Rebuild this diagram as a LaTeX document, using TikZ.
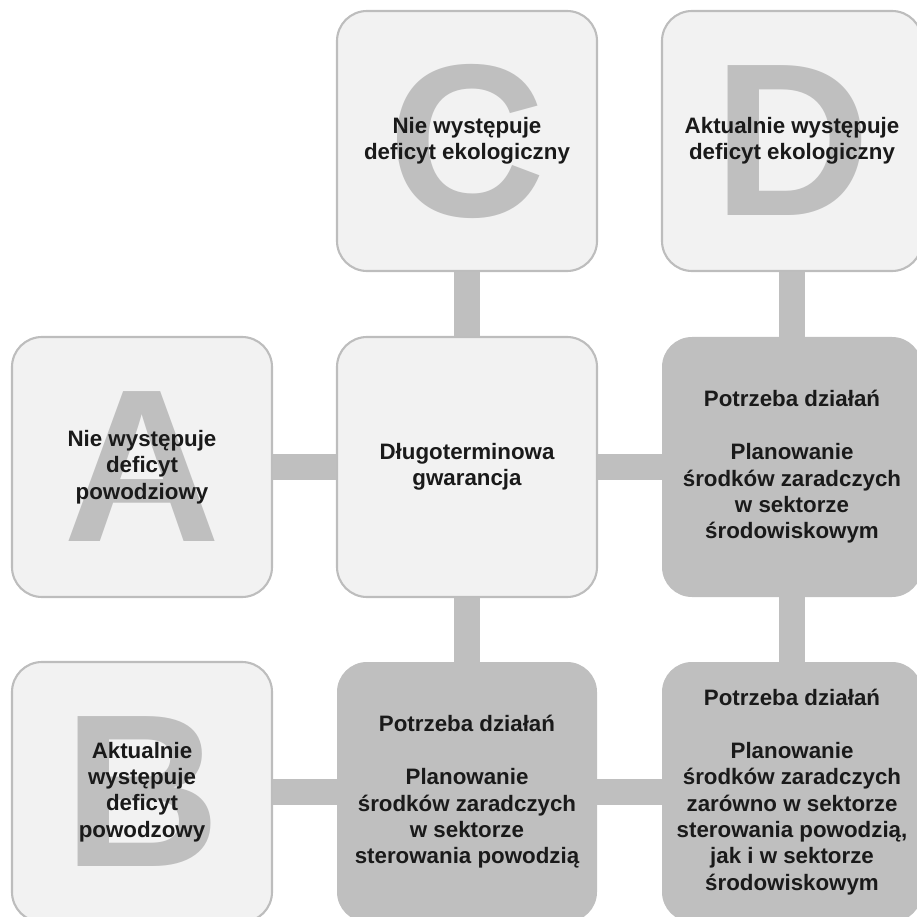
\documentclass[tikz,border=0pt]{standalone}
\usepackage{fontspec}
\setmainfont{Liberation Sans}
\usepackage{tikz}
\definecolor{boxfill}{HTML}{F2F2F2}
\definecolor{boxline}{HTML}{BDBDBD}
\definecolor{barfill}{HTML}{BFBFBF}
\definecolor{txt}{HTML}{1A1A1A}
\tikzset{
  box/.style={rectangle, rounded corners=0.6cm, minimum width=5.2cm, minimum height=5.2cm,
    inner sep=0pt, align=center, text=txt, font=\fontsize{12.7}{15}\selectfont\bfseries},
  lightbox/.style={box, fill=boxfill, draw=boxline, line width=1.2pt,
    path picture={\node[draw=none, fill=none, minimum size=0pt, inner sep=0pt, text=barfill,
      font=\fontsize{124}{124}\selectfont\bfseries] at (path picture bounding box.center) {#1};}},
  darkbox/.style={box, fill=barfill},
  bar/.style={draw=barfill, line width=0.52cm}
}

\begin{document}
\begin{tikzpicture}

            \useasboundingbox (0,0) rectangle (18.32,-18.34);

            % Top row
            \node[lightbox=C] (nodeC) at (9.34,-2.82) {Nie występuje\\deficyt ekologiczny};
            \node[lightbox=D] (nodeD) at (15.84,-2.82) {Aktualnie występuje\\deficyt ekologiczny};

            % Middle row
            \node[lightbox=A] (nodeA) at (2.84,-9.34) {Nie występuje\\deficyt\\powodziowy};
            \node[lightbox={}] (guarantee) at (9.34,-9.34) {Długoterminowa\\gwarancja};
            \node[darkbox] (envneed) at (15.84,-9.34) {Potrzeba działań\\[15pt]Planowanie\\środków zaradczych\\w sektorze\\środowiskowym};

            % Bottom row
            \node[lightbox=B] (nodeB) at (2.84,-15.84) {Aktualnie\\występuje\\deficyt\\powodzowy};
            \node[darkbox] (floodneed) at (9.34,-15.84) {Potrzeba działań\\[15pt]Planowanie\\środków zaradczych\\w sektorze\\sterowania powodzią};
            \node[darkbox] (bothneed) at (15.84,-15.84) {Potrzeba działań\\[15pt]Planowanie\\środków zaradczych\\zarówno w sektorze\\sterowania powodzią,\\jak i w sektorze\\środowiskowym};

            % Bars between boxes
            \draw[bar] (nodeC) -- (guarantee);
            \draw[bar] (nodeD) -- (envneed);
            \draw[bar] (nodeA) -- (guarantee);
            \draw[bar] (guarantee) -- (envneed);
            \draw[bar] (guarantee) -- (floodneed);
            \draw[bar] (envneed) -- (bothneed);
            \draw[bar] (nodeB) -- (floodneed);
            \draw[bar] (floodneed) -- (bothneed);

        \end{tikzpicture}
\end{document}
